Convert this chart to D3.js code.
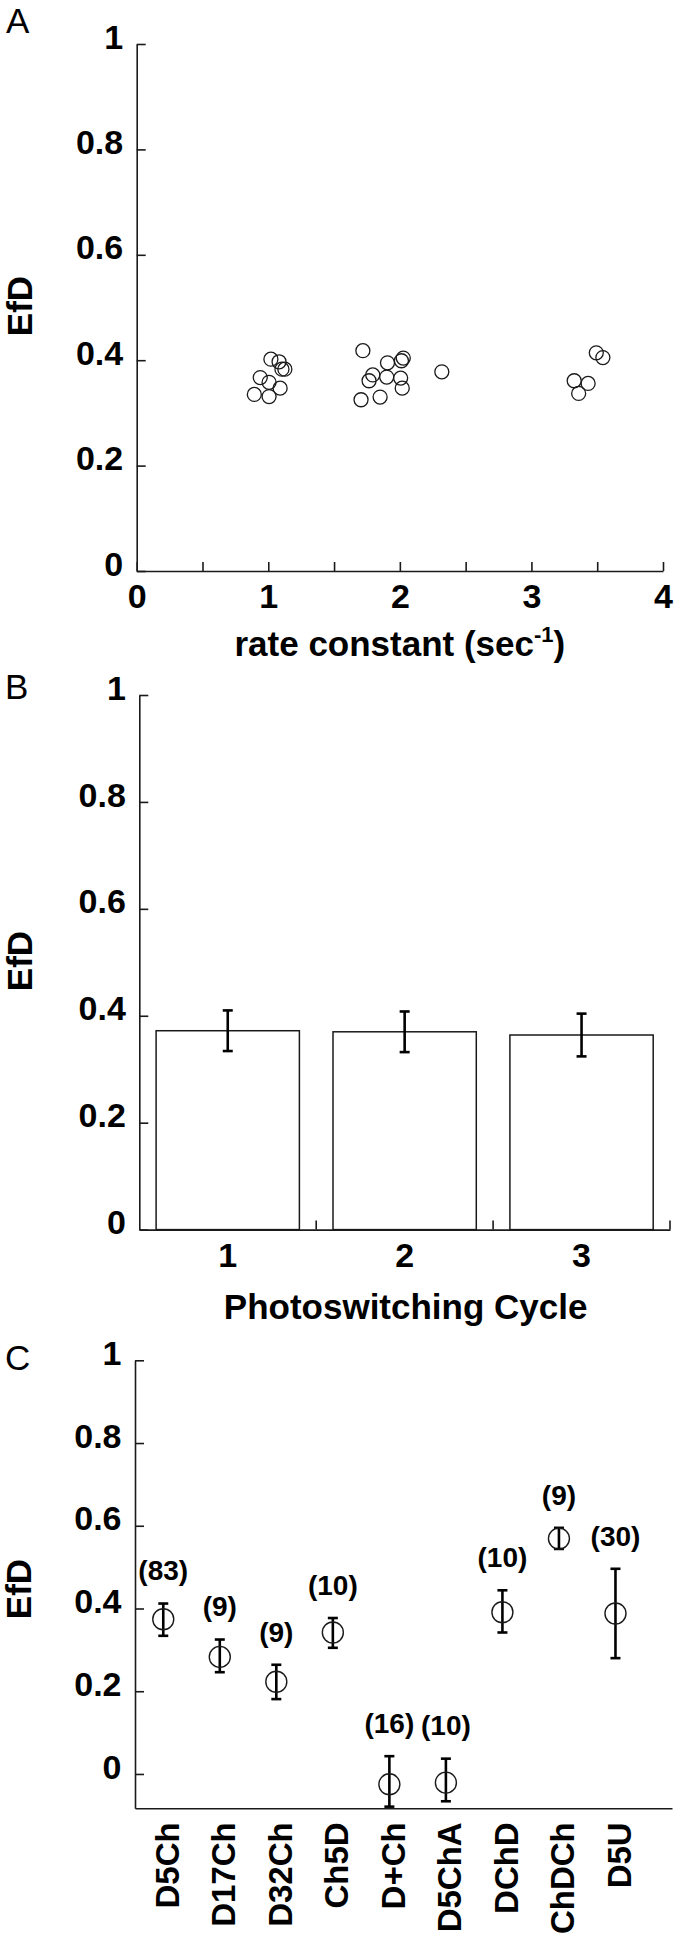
<!DOCTYPE html>
<html><head><meta charset="utf-8">
<script src="https://cdn.jsdelivr.net/npm/d3@7"></script>
<style>
body{margin:0;background:#fff}
text{font-family:"Liberation Sans", Arial, Helvetica, sans-serif;}
</style>
</head><body>
<svg id="c" width="678" height="1934"></svg>
<script>
// ---------- Panel A: EfD vs rate constant ----------
const rateConstant = [1.020,1.082,1.104,1.126,0.939,1.006,1.090,0.894,1.006,
  1.719,1.906,2.026,2.012,1.794,1.766,1.900,2.006,2.018,1.705,1.850,
  2.319,
  3.493,3.543,3.325,3.431,3.359];
const efdA = [0.402,0.397,0.383,0.383,0.367,0.358,0.347,0.335,0.331,
  0.418,0.395,0.404,0.399,0.372,0.361,0.368,0.366,0.347,0.325,0.330,
  0.378,
  0.414,0.405,0.361,0.356,0.337];
const xTicksA = [0,0.5,1,1.5,2,2.5,3,3.5,4];
const xTickLabelsA = {0:"0",1:"1",2:"2",3:"3",4:"4"};
const yTicks = [0,0.2,0.4,0.6,0.8,1];
const yTickLabels = ["0","0.2","0.4","0.6","0.8","1"];

// ---------- Panel B: EfD per photoswitching cycle ----------
const cycles = ["1","2","3"];
const cycleMean = [0.372,0.370,0.364];
const cycleErr = [0.038,0.038,0.040];

// ---------- Panel C: EfD per construct ----------
const constructs = ["D5Ch","D17Ch","D32Ch","Ch5D","D+Ch","D5ChA","DChD","ChDCh","D5U"];
const constructMean = [0.374,0.283,0.223,0.342,-0.025,-0.021,0.391,0.569,0.388];
const constructLow  = [0.334,0.246,0.181,0.305,-0.079,-0.066,0.342,0.544,0.280];
const constructHigh = [0.412,0.325,0.264,0.377,0.043,0.037,0.444,0.595,0.496];
const constructN = [83,9,9,10,16,10,10,9,30];

const svg = d3.select("#c");
const INK = "#1a1a1a";
const FONT = '"Liberation Sans", Arial, Helvetica, sans-serif';

function styleAxis(g, size){
  g.attr("font-family", FONT).attr("font-size", size).attr("font-weight","bold");
  g.selectAll("path.domain").attr("stroke", INK).attr("stroke-width",1.6);
  g.selectAll(".tick line").attr("stroke", INK).attr("stroke-width",1.6);
  g.selectAll("text").attr("fill","#000");
}
function yAxis(y, x0){
  const g = svg.append("g").attr("transform",`translate(${x0},0)`)
    .call(d3.axisLeft(y).tickValues(yTicks).tickFormat((d,i)=>yTickLabels[i])
      .tickSizeInner(-9).tickSizeOuter(0).tickPadding(13.5));
  styleAxis(g, 34);
  g.selectAll("text").attr("dy","0.12em");
  return g;
}
function panelLabel(t, x, y){
  svg.append("text").attr("x",x).attr("y",y).attr("font-size",35)
    .attr("font-family",FONT).text(t);
}
function yTitle(x, y){
  svg.append("text").attr("transform",`translate(${x},${y}) rotate(-90)`)
    .attr("text-anchor","middle").attr("font-size",35).attr("font-weight","bold")
    .attr("font-family",FONT).text("EfD");
}

// ===== Panel A =====
{
  const x = d3.scaleLinear().domain([0,4]).range([136.7,663]);
  const y = d3.scaleLinear().domain([0,1]).range([571,44]);
  yAxis(y, 136.7);
  const gx = svg.append("g").attr("transform",`translate(0,${y(0)})`)
    .call(d3.axisBottom(x).tickValues(xTicksA).tickFormat(d=>xTickLabelsA[d]||"")
      .tickSizeInner(-9).tickSizeOuter(0).tickPadding(13));
  styleAxis(gx, 34);
  svg.append("g").selectAll("circle").data(rateConstant).join("circle")
    .attr("cx",(d)=>x(d)).attr("cy",(d,i)=>y(efdA[i])).attr("r",7)
    .attr("fill","none").attr("stroke",INK).attr("stroke-width",1.3);
  const t = svg.append("text").attr("x",(x(0)+x(4))/2).attr("y",656)
    .attr("text-anchor","middle").attr("font-size",35).attr("font-weight","bold")
    .attr("font-family",FONT);
  t.append("tspan").text("rate constant (sec");
  t.append("tspan").attr("font-size",22).attr("dy",-14).text("-1");
  t.append("tspan").attr("dy",14).text(")");
  panelLabel("A", 6, 33);
  yTitle(32, 306);
}

// ===== Panel B =====
{
  const x = d3.scaleBand().domain(cycles).range([139.3,670]).paddingInner(0.19).paddingOuter(0.095);
  const y = d3.scaleLinear().domain([0,1]).range([1229.6,695]);
  yAxis(y, 139.3);
  svg.append("g").selectAll("rect").data(cycles).join("rect")
    .attr("x",d=>x(d)).attr("width",x.bandwidth())
    .attr("y",(d,i)=>y(cycleMean[i])).attr("height",(d,i)=>y(0)-y(cycleMean[i]))
    .attr("fill","#fff").attr("stroke",INK).attr("stroke-width",1.5);
  const gx = svg.append("g").attr("transform",`translate(0,${y(0)})`)
    .call(d3.axisBottom(x).tickSizeInner(0).tickSizeOuter(0).tickPadding(13));
  styleAxis(gx, 34);
  // boundary ticks between categories
  const r0 = x.range()[0], step = x.step();
  gx.selectAll("line.bt").data(d3.range(1, cycles.length+1)).join("line").attr("class","bt")
    .attr("x1",i=>r0+i*step).attr("x2",i=>r0+i*step).attr("y1",0).attr("y2",-9)
    .attr("stroke",INK).attr("stroke-width",1.6);
  // error bars
  const eb = svg.append("g").attr("stroke","#000").attr("stroke-width",2.6);
  cycles.forEach((c,i)=>{
    const cx = x(c)+x.bandwidth()/2;
    const hi = y(cycleMean[i]+cycleErr[i]), lo = y(cycleMean[i]-cycleErr[i]);
    eb.append("line").attr("x1",cx).attr("x2",cx).attr("y1",hi).attr("y2",lo);
    eb.append("line").attr("x1",cx-5).attr("x2",cx+5).attr("y1",hi).attr("y2",hi);
    eb.append("line").attr("x1",cx-5).attr("x2",cx+5).attr("y1",lo).attr("y2",lo);
  });
  svg.append("text").attr("x",(139.3+670)/2+1).attr("y",1319)
    .attr("text-anchor","middle").attr("font-size",35).attr("font-weight","bold")
    .attr("font-family",FONT).text("Photoswitching Cycle");
  panelLabel("B", 5, 699);
  yTitle(32, 961);
}

// ===== Panel C =====
{
  const x = d3.scaleLinear().domain([0.5,10]).range([135,672]);
  const y = d3.scaleLinear().domain([-0.083,1]).range([1808.3,1360.3]);
  yAxis(y, 135);
  const gx = svg.append("g").attr("transform",`translate(0,${y(-0.083)})`)
    .call(d3.axisBottom(x).tickValues(d3.range(1, constructs.length+1))
      .tickFormat(d=>constructs[d-1]).tickSizeInner(0).tickSizeOuter(0).tickPadding(14));
  styleAxis(gx, 33);
  gx.selectAll(".tick text").attr("text-anchor","end")
    .attr("transform","rotate(-90)").attr("x",-14).attr("y",0).attr("dy","0.45em");
  const eb = svg.append("g").attr("stroke","#000").attr("stroke-width",2.6);
  constructs.forEach((c,i)=>{
    const cx = x(i+1);
    const hi = y(constructHigh[i]), lo = y(constructLow[i]);
    eb.append("line").attr("x1",cx).attr("x2",cx).attr("y1",hi).attr("y2",lo);
    eb.append("line").attr("x1",cx-5).attr("x2",cx+5).attr("y1",hi).attr("y2",hi);
    eb.append("line").attr("x1",cx-5).attr("x2",cx+5).attr("y1",lo).attr("y2",lo);
  });
  svg.append("g").selectAll("circle").data(constructs).join("circle")
    .attr("cx",(d,i)=>x(i+1)).attr("cy",(d,i)=>y(constructMean[i])).attr("r",10.5)
    .attr("fill","none").attr("stroke",INK).attr("stroke-width",1.4);
  svg.append("g").selectAll("text").data(constructs).join("text")
    .attr("x",(d,i)=>x(i+1)).attr("y",(d,i)=>y(constructHigh[i])-33).attr("dy","0.35em")
    .attr("text-anchor","middle").attr("font-size",28).attr("font-weight","bold")
    .attr("font-family",FONT).text((d,i)=>`(${constructN[i]})`);
  panelLabel("C", 5, 1370);
  yTitle(31, 1589);
}
</script>
</body></html>
